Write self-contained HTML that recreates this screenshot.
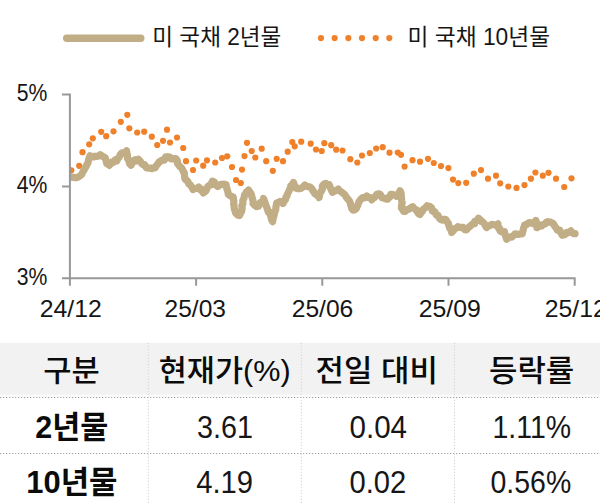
<!DOCTYPE html>
<html><head><meta charset="utf-8"><title>chart</title><style>html,body{margin:0;padding:0;background:#fff;font-family:"Liberation Sans",sans-serif}svg{display:block}</style></head><body><svg width="600" height="504" viewBox="0 0 600 504" role="img" aria-label="미 국채 2년물·10년물 금리 추이"><title>미 국채 2년물·10년물 금리 추이</title>
<rect width="600" height="504" fill="#fff"/>
<line x1="66.7" y1="38.2" x2="140.8" y2="38.2" stroke="#c1ad86" stroke-width="7.4" stroke-linecap="round"/>
<circle cx="320.95" cy="38.1" r="3.1" fill="#f0812b"/>
<circle cx="334.65" cy="38.1" r="3.1" fill="#f0812b"/>
<circle cx="348.35" cy="38.1" r="3.1" fill="#f0812b"/>
<circle cx="362.00" cy="38.1" r="3.1" fill="#f0812b"/>
<circle cx="375.70" cy="38.1" r="3.1" fill="#f0812b"/>
<circle cx="389.30" cy="38.1" r="3.1" fill="#f0812b"/>
<g font-family="'Liberation Sans', 'Noto Sans CJK KR', 'NanumGothic', sans-serif" fill="#161616">
<text x="152.3" y="44.8" font-size="23" textLength="129" lengthAdjust="spacingAndGlyphs">미 국채 2년물</text>
<text x="407.6" y="44.8" font-size="23" textLength="142.5" lengthAdjust="spacingAndGlyphs">미 국채 10년물</text>
<text x="16.7" y="101.3" font-size="24" textLength="30.6" lengthAdjust="spacingAndGlyphs">5%</text>
<text x="16.7" y="192.9" font-size="24" textLength="30.6" lengthAdjust="spacingAndGlyphs">4%</text>
<text x="16.7" y="284.6" font-size="24" textLength="30.6" lengthAdjust="spacingAndGlyphs">3%</text>
<text x="39.7" y="316.9" font-size="24" textLength="62" lengthAdjust="spacingAndGlyphs">24/12</text>
<text x="164.6" y="316.9" font-size="24" textLength="61.3" lengthAdjust="spacingAndGlyphs">25/03</text>
<text x="291.7" y="316.9" font-size="24" textLength="61.6" lengthAdjust="spacingAndGlyphs">25/06</text>
<text x="418.7" y="316.9" font-size="24" textLength="62.1" lengthAdjust="spacingAndGlyphs">25/09</text>
<text x="544.7" y="316.9" font-size="24" textLength="62" lengthAdjust="spacingAndGlyphs">25/12</text>
</g>
<clipPath id="pc"><rect x="69" y="80" width="531" height="198"/></clipPath>
<g clip-path="url(#pc)">
<g fill="#f0812b"><circle cx="71.3" cy="170.3" r="3.1"/><circle cx="79.2" cy="165.8" r="3.1"/><circle cx="82.5" cy="152.2" r="3.1"/><circle cx="89.2" cy="144.3" r="3.1"/><circle cx="92.8" cy="138.3" r="3.1"/><circle cx="101.2" cy="131.8" r="3.1"/><circle cx="106.2" cy="136.2" r="3.1"/><circle cx="113.5" cy="131.3" r="3.1"/><circle cx="120.8" cy="121.8" r="3.1"/><circle cx="127.3" cy="114.8" r="3.1"/><circle cx="129.3" cy="128.3" r="3.1"/><circle cx="137.2" cy="132.5" r="3.1"/><circle cx="144.2" cy="131.7" r="3.1"/><circle cx="151.8" cy="136.7" r="3.1"/><circle cx="157.2" cy="145.0" r="3.1"/><circle cx="163.0" cy="140.8" r="3.1"/><circle cx="167.0" cy="129.7" r="3.1"/><circle cx="170.0" cy="142.5" r="3.1"/><circle cx="177.0" cy="137.5" r="3.1"/><circle cx="183.2" cy="148.0" r="3.1"/><circle cx="186.0" cy="161.2" r="3.1"/><circle cx="193.0" cy="170.0" r="3.1"/><circle cx="196.2" cy="160.5" r="3.1"/><circle cx="203.2" cy="165.7" r="3.1"/><circle cx="207.0" cy="160.3" r="3.1"/><circle cx="215.2" cy="162.5" r="3.1"/><circle cx="222.0" cy="158.0" r="3.1"/><circle cx="227.2" cy="156.3" r="3.1"/><circle cx="232.0" cy="167.0" r="3.1"/><circle cx="236.0" cy="180.0" r="3.1"/><circle cx="240.8" cy="183.0" r="3.1"/><circle cx="242.0" cy="169.6" r="3.1"/><circle cx="244.5" cy="156.1" r="3.1"/><circle cx="247.0" cy="142.8" r="3.1"/><circle cx="251.7" cy="151.0" r="3.1"/><circle cx="255.3" cy="157.5" r="3.1"/><circle cx="261.7" cy="148.7" r="3.1"/><circle cx="266.2" cy="161.2" r="3.1"/><circle cx="272.8" cy="170.8" r="3.1"/><circle cx="276.7" cy="158.8" r="3.1"/><circle cx="283.0" cy="161.2" r="3.1"/><circle cx="287.7" cy="151.7" r="3.1"/><circle cx="292.3" cy="142.0" r="3.1"/><circle cx="294.7" cy="146.3" r="3.1"/><circle cx="301.2" cy="141.7" r="3.1"/><circle cx="310.7" cy="143.7" r="3.1"/><circle cx="316.0" cy="149.5" r="3.1"/><circle cx="321.7" cy="151.0" r="3.1"/><circle cx="324.3" cy="143.2" r="3.1"/><circle cx="331.2" cy="145.2" r="3.1"/><circle cx="336.2" cy="149.7" r="3.1"/><circle cx="342.5" cy="150.5" r="3.1"/><circle cx="350.3" cy="159.2" r="3.1"/><circle cx="357.3" cy="162.5" r="3.1"/><circle cx="362.0" cy="155.5" r="3.1"/><circle cx="369.8" cy="153.0" r="3.1"/><circle cx="376.2" cy="148.5" r="3.1"/><circle cx="382.7" cy="147.2" r="3.1"/><circle cx="389.5" cy="152.7" r="3.1"/><circle cx="397.8" cy="152.5" r="3.1"/><circle cx="401.0" cy="154.8" r="3.1"/><circle cx="404.6" cy="166.6" r="3.1"/><circle cx="412.5" cy="160.2" r="3.1"/><circle cx="420.0" cy="161.7" r="3.1"/><circle cx="428.0" cy="158.8" r="3.1"/><circle cx="433.8" cy="163.0" r="3.1"/><circle cx="441.0" cy="166.0" r="3.1"/><circle cx="448.4" cy="168.1" r="3.1"/><circle cx="453.0" cy="179.6" r="3.1"/><circle cx="458.3" cy="183.1" r="3.1"/><circle cx="466.2" cy="182.8" r="3.1"/><circle cx="473.8" cy="173.7" r="3.1"/><circle cx="481.0" cy="170.1" r="3.1"/><circle cx="488.0" cy="178.7" r="3.1"/><circle cx="496.0" cy="175.7" r="3.1"/><circle cx="500.2" cy="183.3" r="3.1"/><circle cx="508.3" cy="186.5" r="3.1"/><circle cx="516.5" cy="187.9" r="3.1"/><circle cx="524.5" cy="185.1" r="3.1"/><circle cx="530.9" cy="178.7" r="3.1"/><circle cx="535.4" cy="172.5" r="3.1"/><circle cx="542.8" cy="175.7" r="3.1"/><circle cx="548.5" cy="172.8" r="3.1"/><circle cx="556.0" cy="178.7" r="3.1"/><circle cx="564.2" cy="187.0" r="3.1"/><circle cx="571.5" cy="178.3" r="3.1"/></g>
<path d="M70.5 176.8 L72.0 177.2 L73.5 177.4 L75.0 177.6 L76.5 177.7 L78.5 176.9 L80.6 175.4 L81.8 174.3 L82.8 172.1 L83.6 170.6 L84.3 169.6 L84.9 168.4 L86.1 166.4 L87.3 163.9 L88.1 162.3 L88.6 159.7 L89.4 157.4 L90.1 155.8 L91.4 156.3 L93.6 157.0 L95.0 156.2 L96.3 156.4 L98.6 155.9 L100.2 154.7 L102.0 156.0 L104.2 157.2 L105.2 157.8 L106.1 160.8 L106.8 163.6 L107.8 164.1 L109.3 165.4 L110.6 163.7 L112.1 162.0 L113.1 162.5 L115.1 160.0 L116.9 160.9 L117.9 158.3 L119.1 157.4 L120.3 154.6 L120.8 154.0 L122.0 152.9 L123.2 152.9 L124.8 152.5 L126.6 150.7 L127.1 154.2 L127.4 154.7 L127.4 158.2 L128.5 159.9 L128.9 161.0 L129.6 163.6 L131.0 165.3 L131.9 163.5 L132.4 161.2 L133.3 160.6 L135.2 159.6 L136.5 160.9 L138.3 159.3 L139.9 160.7 L141.4 163.1 L143.0 164.6 L144.6 164.6 L145.8 166.9 L146.7 168.0 L148.5 168.1 L150.1 168.0 L151.7 168.7 L153.5 167.9 L155.1 167.9 L156.6 165.3 L158.0 163.7 L159.0 162.0 L159.4 162.1 L162.2 160.0 L164.3 160.2 L165.2 158.1 L165.7 156.8 L166.8 156.9 L167.8 156.6 L168.9 157.7 L169.9 157.1 L171.4 158.9 L173.6 158.6 L175.4 158.9 L176.0 158.7 L177.3 160.6 L177.5 163.3 L178.8 165.2 L179.9 166.7 L181.5 167.9 L182.3 169.2 L183.3 171.4 L184.3 172.8 L184.5 175.4 L184.9 178.8 L185.7 179.8 L186.8 180.4 L187.7 181.6 L188.0 181.7 L189.0 184.3 L190.2 184.8 L192.1 187.6 L193.1 189.6 L194.7 188.5 L197.0 188.5 L198.7 187.1 L199.5 189.4 L201.2 188.9 L201.9 191.0 L203.4 192.9 L204.1 192.4 L205.8 191.0 L206.4 189.8 L207.8 186.7 L209.2 185.4 L210.8 185.0 L212.4 181.2 L214.4 182.0 L215.7 184.9 L217.7 186.5 L219.2 185.6 L220.6 184.4 L222.1 184.4 L223.3 184.3 L224.2 184.1 L226.1 184.7 L226.4 186.7 L227.0 189.3 L227.7 191.0 L228.3 194.4 L229.8 195.3 L230.5 195.9 L232.3 196.7 L233.2 196.9 L233.7 200.5 L233.9 202.3 L233.6 204.3 L233.9 204.9 L234.2 208.3 L234.4 209.2 L234.9 210.2 L235.3 211.9 L235.6 212.8 L237.5 215.0 L239.4 215.5 L240.8 212.9 L241.1 212.2 L241.7 211.2 L241.9 209.5 L242.2 208.1 L241.8 205.8 L242.9 203.9 L242.8 201.1 L242.8 200.5 L244.1 197.9 L244.5 194.8 L245.1 194.6 L246.2 192.4 L248.5 190.1 L249.9 192.0 L250.8 193.3 L251.3 194.4 L252.0 197.3 L252.3 198.3 L253.4 202.4 L253.0 203.5 L254.3 205.1 L256.4 206.6 L258.4 206.3 L259.9 202.9 L260.8 202.3 L262.8 201.8 L263.5 198.5 L264.5 201.0 L265.0 202.6 L266.2 206.3 L266.4 206.3 L267.6 209.5 L268.2 211.8 L268.7 211.6 L269.2 211.7 L270.1 214.4 L270.6 215.9 L271.3 218.4 L271.9 220.5 L272.7 221.6 L272.8 219.7 L273.5 217.2 L274.0 215.5 L274.5 213.6 L274.7 211.6 L275.7 210.1 L275.8 208.4 L276.0 206.6 L276.7 202.9 L278.9 202.2 L280.1 201.3 L282.4 202.1 L283.0 203.5 L284.1 201.5 L284.6 200.5 L285.4 199.7 L285.9 197.1 L286.9 196.4 L287.2 194.6 L288.5 192.0 L289.5 189.9 L290.0 188.7 L290.9 186.7 L290.7 185.9 L292.7 184.1 L293.5 182.4 L294.1 185.1 L295.0 185.7 L296.1 188.3 L297.8 188.6 L299.9 188.6 L301.7 188.0 L303.5 186.6 L304.8 185.0 L306.3 186.1 L307.8 186.6 L310.2 187.0 L311.7 188.5 L312.4 189.6 L314.0 192.4 L314.8 193.8 L315.7 194.1 L317.5 195.7 L318.4 195.1 L319.1 197.6 L319.7 194.3 L320.1 192.8 L321.1 191.6 L321.7 190.4 L322.3 189.4 L322.4 185.8 L323.9 184.1 L325.8 183.4 L327.1 184.9 L329.2 184.7 L329.9 186.7 L330.7 188.6 L331.8 191.0 L332.3 192.3 L333.8 191.5 L336.4 190.3 L338.3 189.1 L339.4 190.9 L341.2 191.8 L342.9 193.2 L344.0 193.9 L345.2 195.2 L346.3 197.3 L346.9 197.9 L348.1 199.3 L349.1 200.4 L350.0 202.3 L350.7 204.8 L351.6 208.1 L352.5 209.5 L353.2 210.2 L355.1 209.6 L356.4 208.4 L357.0 206.7 L357.7 205.4 L358.3 203.6 L358.9 201.9 L359.7 200.8 L361.3 198.6 L362.8 197.5 L364.7 197.8 L366.8 196.0 L368.5 197.5 L370.5 197.5 L371.7 199.9 L372.9 198.2 L374.2 197.7 L375.5 196.3 L377.2 194.0 L378.3 193.9 L379.8 194.1 L380.9 195.4 L382.3 197.9 L383.9 198.0 L385.6 198.9 L387.5 199.2 L389.2 196.7 L389.7 197.3 L390.8 194.3 L392.4 194.3 L393.8 194.8 L395.0 195.4 L396.3 196.3 L397.9 194.6 L398.8 193.3 L400.0 190.7 L401.0 192.6 L401.3 195.4 L401.2 196.6 L401.4 197.9 L401.7 200.5 L402.2 202.8 L401.8 203.9 L401.4 208.1 L402.0 208.3 L402.9 210.0 L403.6 211.4 L405.4 211.3 L406.8 209.6 L408.6 209.3 L410.8 207.7 L412.7 206.7 L414.2 208.6 L415.8 209.7 L416.6 209.8 L417.4 212.1 L418.5 213.5 L419.4 214.3 L420.1 214.5 L421.2 212.2 L422.4 211.3 L423.1 209.4 L425.0 208.1 L427.0 205.9 L427.9 206.7 L430.0 206.4 L430.9 207.8 L431.6 207.8 L432.3 211.0 L433.0 211.2 L434.8 211.7 L436.2 214.8 L438.1 215.5 L438.4 216.5 L439.8 218.7 L440.5 219.4 L442.5 220.1 L444.1 219.2 L445.9 219.5 L446.9 221.6 L448.3 223.2 L449.1 226.2 L449.8 228.2 L451.1 229.6 L451.6 232.5 L453.4 230.7 L455.0 228.5 L456.7 227.8 L457.8 226.7 L460.0 227.4 L461.9 227.3 L463.1 227.4 L464.2 229.3 L465.8 229.9 L466.9 229.4 L467.9 228.0 L469.6 226.6 L471.5 225.0 L472.5 223.9 L474.5 223.6 L474.7 221.3 L476.4 220.9 L477.9 219.8 L478.4 218.1 L480.1 219.7 L481.3 221.6 L482.4 221.5 L484.1 223.5 L485.5 225.4 L485.8 226.5 L486.5 227.5 L488.5 226.1 L490.0 225.4 L491.9 224.3 L493.6 224.8 L495.5 225.1 L497.9 223.8 L497.9 226.3 L498.8 228.7 L499.8 228.6 L500.2 231.1 L502.1 232.1 L504.4 231.7 L505.0 234.4 L505.9 236.9 L506.6 239.3 L507.8 238.0 L510.2 236.8 L511.6 237.1 L513.8 235.3 L515.2 233.8 L516.7 234.0 L518.2 234.4 L520.0 234.0 L522.0 234.0 L522.2 233.8 L523.1 230.3 L523.8 227.5 L524.3 226.5 L524.6 225.0 L526.7 224.4 L529.1 222.5 L531.5 222.9 L533.2 223.6 L534.9 222.4 L535.9 220.4 L536.4 223.2 L537.6 223.6 L537.0 227.6 L539.5 226.1 L541.5 226.0 L543.0 224.6 L545.2 223.8 L546.4 222.1 L547.8 221.7 L550.3 222.1 L552.3 223.0 L553.5 223.9 L554.5 225.9 L556.0 227.7 L557.4 230.1 L558.0 230.3 L559.7 230.0 L560.8 232.4 L562.2 235.3 L564.6 234.8 L566.8 232.4 L567.6 233.0 L569.5 232.2 L570.9 230.9 L572.1 232.6 L573.5 233.6 L575.0 233.7" fill="none" stroke="#c1ad86" stroke-width="7.2" stroke-linejoin="round" stroke-linecap="round"/>
</g>
<path d="M62 94.6H69.9V278.3H575.7M62 186.45H69.9M62 278.3H69.9M69.9 278.3V285.7M196.1 278.3V285.7M322.3 278.3V285.7M448.5 278.3V285.7M574.7 278.3V285.7" fill="none" stroke="#989898" stroke-width="2"/>
<rect x="0" y="342.8" width="600" height="54" fill="#fafafa"/><rect x="0" y="342.8" width="600" height="51.8" fill="#f2f2f2"/>
<path d="M0 397.5H600M0 453.5H600" fill="none" stroke="#a4a4a4" stroke-width="1.1" stroke-dasharray="1.3 1.7"/>
<path d="M148.3 342.8V504M301.3 342.8V504M454.5 342.8V504" fill="none" stroke="#d4d4d4" stroke-width="1" stroke-dasharray="1.3 1.7"/>
<g font-family="'Liberation Sans', 'Noto Sans CJK KR', 'NanumGothic', sans-serif" fill="#0b0b0b" font-weight="500">
<text x="43.2" y="381" font-size="30" textLength="56.5" lengthAdjust="spacingAndGlyphs">구분</text>
<text x="158.7" y="381" font-size="30" textLength="132" lengthAdjust="spacingAndGlyphs">현재가(%)</text>
<text x="315.6" y="381" font-size="30" textLength="122.4" lengthAdjust="spacingAndGlyphs">전일 대비</text>
<text x="489" y="381" font-size="30" textLength="85.2" lengthAdjust="spacingAndGlyphs">등락률</text>
</g>
<g font-family="'Liberation Sans', 'Noto Sans CJK KR', 'NanumGothic', sans-serif" fill="#0b0b0b" font-weight="bold">
<text x="35.3" y="437.8" font-size="31" textLength="73" lengthAdjust="spacingAndGlyphs">2년물</text>
<text x="26.3" y="493.2" font-size="31" textLength="91.2" lengthAdjust="spacingAndGlyphs">10년물</text>
</g>
<g font-family="'Liberation Sans', 'Noto Sans CJK KR', sans-serif" fill="#161616">
<text x="197" y="437.5" font-size="31" textLength="56" lengthAdjust="spacingAndGlyphs">3.61</text>
<text x="349.5" y="437.5" font-size="31" textLength="57.5" lengthAdjust="spacingAndGlyphs">0.04</text>
<text x="492.5" y="437.5" font-size="31" textLength="78.7" lengthAdjust="spacingAndGlyphs">1.11%</text>
<text x="196.2" y="493.2" font-size="31" textLength="56.8" lengthAdjust="spacingAndGlyphs">4.19</text>
<text x="349.5" y="493.2" font-size="31" textLength="56.7" lengthAdjust="spacingAndGlyphs">0.02</text>
<text x="490.5" y="493.2" font-size="31" textLength="80.7" lengthAdjust="spacingAndGlyphs">0.56%</text>
</g>
</svg></body></html>
